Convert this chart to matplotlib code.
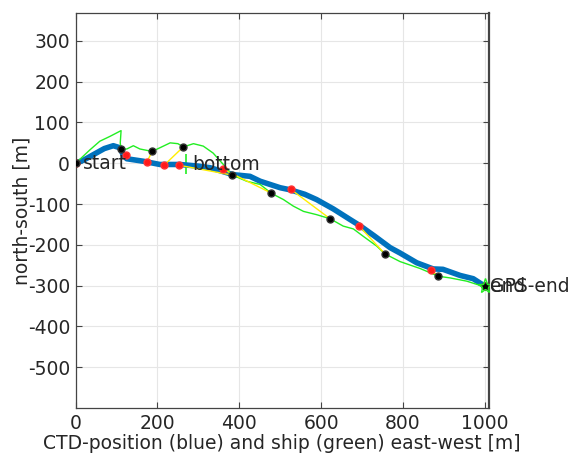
import matplotlib
matplotlib.use("Agg")
import matplotlib.pyplot as plt

# CTD track (blue)
ctd_x = [0, 20, 43, 70, 92, 108, 116, 125, 165, 206, 255, 300, 329, 385, 426, 451, 500, 524, 560, 589, 630, 671, 695, 730, 769, 793, 834, 874, 898, 940, 972, 1000]
ctd_y = [0, 8, 21, 36, 43, 38, 21, 11, 5, -3, -3, -7, -11, -28, -32, -44, -60, -65, -76, -89, -112, -138, -153, -178, -207, -220, -244, -259, -260, -275, -283, -301]

# ship track (green)
ship_x = [0, 35, 59, 84, 111, 109, 111, 125, 141, 157, 187, 206, 231, 250, 263, 288, 312, 336, 361, 383, 418, 451, 479, 508, 532, 557, 589, 622, 654, 679, 703, 736, 756, 793, 842, 887, 915, 956, 1000]
ship_y = [0, 33, 54, 66, 80, 50, 34, 35, 43, 35, 29, 38, 50, 48, 40, 48, 42, 25, -3, -29, -44, -52, -74, -89, -105, -118, -126, -136, -154, -161, -179, -203, -222, -241, -258, -277, -281, -289, -303]

# time-matched positions (red = CTD, black = ship)
red_x = [0, 122, 174, 216, 253, 361, 526, 692, 868, 1000]
red_y = [0, 21, 3, -5, -5, -15, -64, -153, -261, -301]
blk_x = [0, 111, 187, 263, 383, 478, 622, 756, 887, 1000]
blk_y = [0, 34, 29, 40, -29, -73, -136, -222, -277, -301]

bottom_xy = (270, -3)
end_xy = (1000, -301)

xticks = [0, 200, 400, 600, 800, 1000]
yticks = [300, 200, 100, 0, -100, -200, -300, -400, -500]

fig = plt.figure(figsize=(5.69, 4.53), dpi=100)
ax = fig.add_axes([0.133, 0.0993, 0.726, 0.8717])
txtc = '#262626'
fs = 13.5

ax.plot(ship_x, ship_y, color='#22ee22', lw=1.0, zorder=3)
ax.plot(ctd_x, ctd_y, color='#0072BD', lw=4.0, solid_capstyle='round', zorder=2)
for rx, ry, bx, by in zip(red_x, red_y, blk_x, blk_y):
    ax.plot([rx, bx], [ry, by], color='#ffee00', lw=1.0, zorder=4)
ax.plot(red_x, red_y, 'o', color='#ff1a1a', ms=5, mec='#ff3333', zorder=5)
ax.plot(blk_x, blk_y, 'o', color='black', ms=5, mec='#333333', zorder=6)
ax.plot([bottom_xy[0]], [bottom_xy[1]], '+', color='#22ee22', ms=14, mew=1.2, zorder=1)
ax.plot([end_xy[0]], [end_xy[1]], '*', color='#22ee22', ms=11, mew=1.0, zorder=7, mfc='none')

ax.text(17, 0, 'start', fontsize=fs, color=txtc, va='center', ha='left', zorder=8)
ax.text(bottom_xy[0] + 16, bottom_xy[1], 'bottom', fontsize=fs, color=txtc, va='center', ha='left', zorder=8)
ax.text(end_xy[0] + 13, end_xy[1], 'GPS-end', fontsize=fs, color=txtc, va='center', ha='left', zorder=8, clip_on=False)
ax.text(end_xy[0] + 13, end_xy[1], 'end', fontsize=fs, color=txtc, va='center', ha='left', zorder=8, clip_on=False)

ax.set_xlim(0, 1010)
ax.set_ylim(-600, 368)
ax.set_xticks(xticks)
ax.set_yticks(yticks)
ax.set_xticklabels([str(v) for v in xticks])
ax.set_yticklabels([str(v) for v in yticks])
ax.grid(True, color='#e6e6e6', lw=0.8)
ax.set_axisbelow(True)
ax.tick_params(direction='in', top=True, right=True, length=4, width=0.8,
               colors='#444444', labelcolor=txtc, labelsize=fs, pad=4)
for s in ax.spines.values():
    s.set_color('#444444')
    s.set_linewidth(0.9)
ax.spines['right'].set_linewidth(1.6)
ax.set_xlabel('CTD-position (blue) and ship (green) east-west [m]', fontsize=fs, color=txtc, labelpad=1)
ax.set_ylabel('north-south [m]', fontsize=fs, color=txtc, labelpad=-3)

fig.savefig('out.png', dpi=100)
